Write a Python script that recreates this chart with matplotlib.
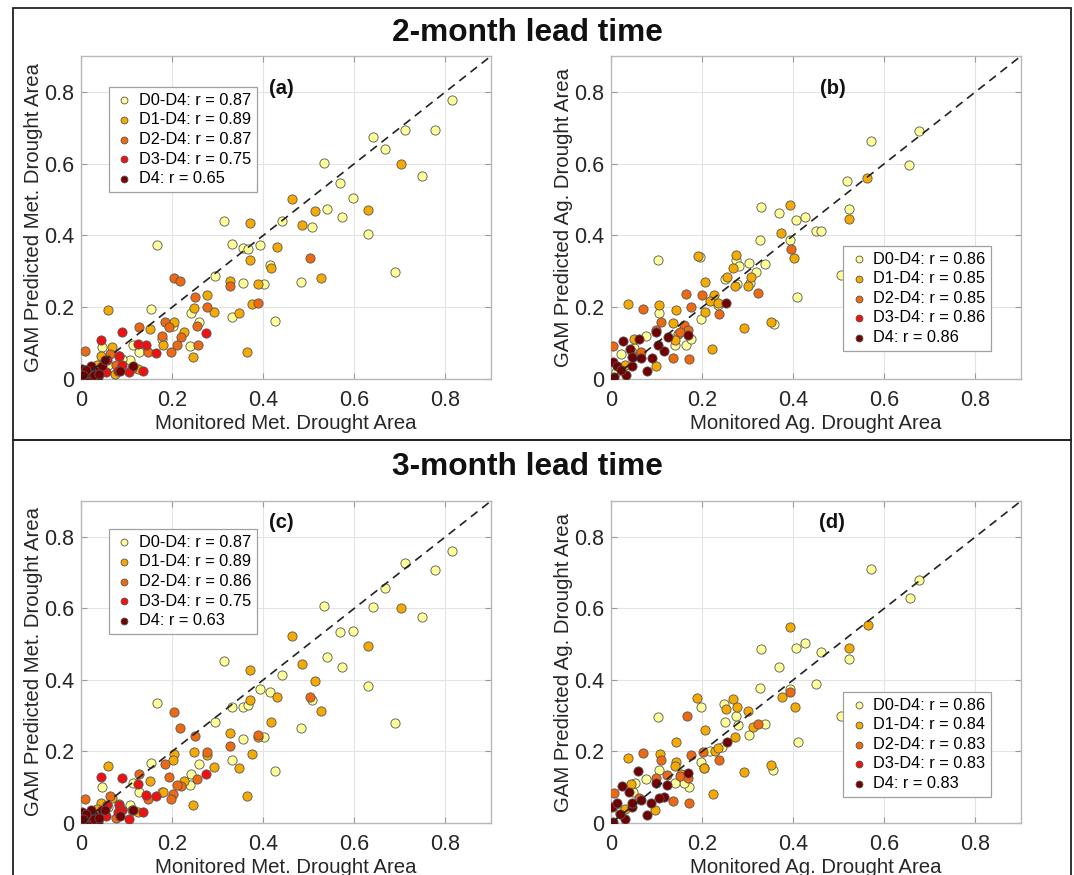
import matplotlib
matplotlib.use("Agg")
import matplotlib.pyplot as plt
from matplotlib.patches import Rectangle
from matplotlib.ticker import FuncFormatter
import numpy as np

plt.rcParams['font.family'] = ['Liberation Sans', 'DejaVu Sans']

# ---------------- data ----------------
series_names = ["D0-D4", "D1-D4", "D2-D4", "D3-D4", "D4"]
series_colors = ["#FFFF99", "#F5AA00", "#EE6A12", "#EE1111", "#730000"]

r_a = ["0.87", "0.89", "0.87", "0.75", "0.65"]
r_b = ["0.86", "0.85", "0.85", "0.86", "0.86"]
r_c = ["0.87", "0.89", "0.86", "0.75", "0.63"]
r_d = ["0.86", "0.84", "0.83", "0.83", "0.83"]

# Panel (a): meteorological, 2-month lead
a_d0_x = [0.815, 0.712, 0.776, 0.640, 0.667, 0.533, 0.748, 0.569, 0.598, 0.540, 0.574, 0.442, 0.506, 0.630, 0.314, 0.166, 0.332, 0.356, 0.367, 0.394, 0.414, 0.689, 0.295, 0.356, 0.402, 0.482, 0.331, 0.426, 0.154, 0.242, 0.258, 0.202, 0.177, 0.239, 0.114, 0.128, 0.045, 0.108, 0.030, 0.060, 0.090, 0.015]
a_d0_y = [0.777, 0.693, 0.694, 0.674, 0.642, 0.603, 0.566, 0.547, 0.503, 0.473, 0.451, 0.440, 0.424, 0.405, 0.441, 0.374, 0.376, 0.365, 0.362, 0.373, 0.317, 0.297, 0.287, 0.268, 0.265, 0.271, 0.173, 0.162, 0.195, 0.183, 0.160, 0.149, 0.112, 0.091, 0.095, 0.075, 0.090, 0.052, 0.030, 0.040, 0.055, 0.012]
a_d1_x = [0.702, 0.464, 0.630, 0.513, 0.486, 0.370, 0.370, 0.418, 0.430, 0.527, 0.328, 0.388, 0.277, 0.248, 0.292, 0.347, 0.376, 0.059, 0.205, 0.226, 0.152, 0.179, 0.246, 0.364, 0.067, 0.044, 0.126, 0.083, 0.035, 0.075]
a_d1_y = [0.598, 0.502, 0.470, 0.467, 0.429, 0.436, 0.331, 0.309, 0.369, 0.281, 0.273, 0.264, 0.233, 0.197, 0.187, 0.185, 0.209, 0.192, 0.160, 0.131, 0.140, 0.095, 0.060, 0.075, 0.088, 0.063, 0.028, 0.065, 0.040, 0.015]
a_d2_x = [0.502, 0.204, 0.217, 0.327, 0.251, 0.277, 0.388, 0.184, 0.193, 0.127, 0.255, 0.177, 0.220, 0.211, 0.257, 0.198, 0.148, 0.009, 0.064, 0.077, 0.112, 0.040]
a_d2_y = [0.337, 0.282, 0.274, 0.260, 0.229, 0.201, 0.212, 0.159, 0.146, 0.146, 0.149, 0.119, 0.118, 0.094, 0.095, 0.074, 0.074, 0.077, 0.070, 0.038, 0.032, 0.025]
a_d3_x = [0.090, 0.275, 0.044, 0.126, 0.142, 0.164, 0.084, 0.057, 0.090, 0.106, 0.137, 0.055, 0.082]
a_d3_y = [0.131, 0.128, 0.108, 0.098, 0.094, 0.072, 0.063, 0.054, 0.038, 0.019, 0.021, 0.019, 0.021]
a_d4_x = [0.002, 0.019, 0.038, 0.030, 0.046, 0.115, 0.085, 0.007, 0.014, 0.052, 0.022, 0.010, 0.028, 0.040, 0.005]
a_d4_y = [0.029, 0.009, 0.006, 0.021, 0.037, 0.037, 0.021, 0.002, 0.017, 0.053, 0.037, 0.025, 0.010, 0.015, 0.010]

# Panel (b): agricultural, 2-month lead
b_d0_x = [0.676, 0.570, 0.654, 0.519, 0.522, 0.329, 0.368, 0.405, 0.425, 0.450, 0.461, 0.326, 0.393, 0.103, 0.337, 0.304, 0.274, 0.280, 0.318, 0.504, 0.409, 0.250, 0.277, 0.306, 0.196, 0.235, 0.106, 0.197, 0.358, 0.164, 0.175, 0.140, 0.077, 0.051, 0.023, 0.045, 0.010]
b_d0_y = [0.690, 0.664, 0.595, 0.552, 0.474, 0.478, 0.462, 0.442, 0.451, 0.411, 0.413, 0.387, 0.386, 0.331, 0.320, 0.324, 0.331, 0.316, 0.298, 0.291, 0.229, 0.280, 0.265, 0.268, 0.341, 0.207, 0.185, 0.167, 0.153, 0.096, 0.111, 0.096, 0.119, 0.087, 0.070, 0.075, 0.020]
b_d1_x = [0.563, 0.523, 0.392, 0.374, 0.402, 0.275, 0.190, 0.267, 0.301, 0.254, 0.308, 0.272, 0.207, 0.227, 0.217, 0.234, 0.206, 0.038, 0.106, 0.142, 0.136, 0.351, 0.291, 0.222, 0.148, 0.098, 0.050, 0.140, 0.030]
b_d1_y = [0.561, 0.446, 0.485, 0.408, 0.337, 0.346, 0.342, 0.308, 0.258, 0.285, 0.284, 0.258, 0.269, 0.235, 0.216, 0.211, 0.186, 0.208, 0.207, 0.191, 0.155, 0.158, 0.141, 0.084, 0.126, 0.036, 0.111, 0.110, 0.040]
b_d2_x = [0.395, 0.323, 0.238, 0.165, 0.200, 0.175, 0.071, 0.110, 0.160, 0.170, 0.152, 0.005, 0.099, 0.135, 0.172, 0.053, 0.066]
b_d2_y = [0.363, 0.241, 0.182, 0.238, 0.233, 0.202, 0.195, 0.160, 0.151, 0.137, 0.130, 0.093, 0.137, 0.058, 0.056, 0.063, 0.074]
b_d3_x = []
b_d3_y = []
b_d4_x = [0.253, 0.026, 0.061, 0.099, 0.126, 0.170, 0.116, 0.104, 0.079, 0.041, 0.066, 0.089, 0.004, 0.014, 0.032, 0.006, 0.047, 0.023, 0.045]
b_d4_y = [0.211, 0.106, 0.112, 0.130, 0.117, 0.122, 0.077, 0.095, 0.021, 0.083, 0.058, 0.058, 0.046, 0.035, 0.010, 0.005, 0.035, 0.024, 0.060]

# Panel (c): meteorological, 3-month lead
c_d0_x = [0.815, 0.712, 0.776, 0.667, 0.640, 0.533, 0.748, 0.569, 0.598, 0.540, 0.574, 0.442, 0.630, 0.506, 0.314, 0.166, 0.394, 0.414, 0.332, 0.356, 0.367, 0.689, 0.295, 0.402, 0.482, 0.356, 0.331, 0.426, 0.154, 0.258, 0.242, 0.239, 0.114, 0.128, 0.045, 0.177, 0.108, 0.030, 0.060, 0.015]
c_d0_y = [0.759, 0.728, 0.707, 0.657, 0.604, 0.606, 0.575, 0.534, 0.537, 0.464, 0.436, 0.413, 0.383, 0.345, 0.453, 0.335, 0.374, 0.367, 0.323, 0.325, 0.329, 0.280, 0.282, 0.239, 0.265, 0.234, 0.175, 0.145, 0.167, 0.166, 0.138, 0.106, 0.113, 0.087, 0.100, 0.088, 0.051, 0.035, 0.045, 0.012]
c_d1_x = [0.702, 0.464, 0.630, 0.513, 0.486, 0.370, 0.370, 0.418, 0.430, 0.527, 0.328, 0.388, 0.277, 0.248, 0.292, 0.347, 0.376, 0.059, 0.205, 0.226, 0.152, 0.179, 0.246, 0.364, 0.067, 0.044, 0.126, 0.083, 0.203, 0.035]
c_d1_y = [0.600, 0.524, 0.496, 0.396, 0.444, 0.428, 0.345, 0.283, 0.351, 0.312, 0.252, 0.240, 0.189, 0.199, 0.157, 0.155, 0.192, 0.160, 0.194, 0.117, 0.116, 0.087, 0.051, 0.075, 0.070, 0.055, 0.030, 0.053, 0.175, 0.040]
c_d2_x = [0.502, 0.204, 0.217, 0.327, 0.251, 0.277, 0.388, 0.184, 0.193, 0.127, 0.255, 0.202, 0.220, 0.211, 0.198, 0.148, 0.009, 0.064, 0.077, 0.112]
c_d2_y = [0.353, 0.311, 0.265, 0.215, 0.243, 0.198, 0.245, 0.166, 0.129, 0.138, 0.122, 0.081, 0.103, 0.107, 0.068, 0.067, 0.068, 0.076, 0.014, 0.036]
c_d3_x = [0.090, 0.275, 0.044, 0.126, 0.142, 0.164, 0.084, 0.057, 0.090, 0.106, 0.137, 0.055, 0.082]
c_d3_y = [0.125, 0.138, 0.128, 0.110, 0.078, 0.076, 0.050, 0.050, 0.036, 0.011, 0.030, 0.020, 0.032]
c_d4_x = [0.002, 0.019, 0.038, 0.030, 0.046, 0.115, 0.085, 0.007, 0.014, 0.052, 0.022, 0.010, 0.028, 0.040, 0.005]
c_d4_y = [0.032, 0.009, 0.004, 0.020, 0.036, 0.037, 0.019, 0.002, 0.020, 0.037, 0.035, 0.025, 0.010, 0.015, 0.010]

# Panel (d): agricultural, 3-month lead
d_d0_x = [0.570, 0.676, 0.656, 0.523, 0.426, 0.405, 0.461, 0.330, 0.369, 0.450, 0.327, 0.393, 0.505, 0.410, 0.103, 0.197, 0.247, 0.274, 0.279, 0.251, 0.304, 0.337, 0.244, 0.218, 0.198, 0.205, 0.356, 0.106, 0.172, 0.161, 0.141, 0.076, 0.048, 0.053, 0.020]
d_d0_y = [0.710, 0.679, 0.628, 0.459, 0.502, 0.489, 0.478, 0.487, 0.436, 0.389, 0.378, 0.375, 0.298, 0.227, 0.297, 0.324, 0.333, 0.299, 0.273, 0.283, 0.247, 0.277, 0.212, 0.200, 0.171, 0.155, 0.148, 0.148, 0.102, 0.111, 0.111, 0.124, 0.087, 0.113, 0.030]
d_d1_x = [0.564, 0.523, 0.394, 0.375, 0.403, 0.267, 0.189, 0.252, 0.276, 0.300, 0.311, 0.272, 0.207, 0.228, 0.234, 0.142, 0.037, 0.107, 0.143, 0.351, 0.291, 0.224, 0.205, 0.153, 0.097, 0.044, 0.140, 0.030]
d_d1_y = [0.553, 0.489, 0.549, 0.353, 0.325, 0.347, 0.349, 0.319, 0.324, 0.314, 0.269, 0.240, 0.260, 0.200, 0.210, 0.227, 0.183, 0.194, 0.170, 0.161, 0.143, 0.080, 0.155, 0.138, 0.035, 0.109, 0.160, 0.040]
d_d2_x = [0.394, 0.323, 0.237, 0.166, 0.201, 0.175, 0.071, 0.110, 0.152, 0.170, 0.006, 0.098, 0.135, 0.172, 0.124, 0.062]
d_d2_y = [0.366, 0.277, 0.175, 0.300, 0.198, 0.189, 0.196, 0.176, 0.132, 0.126, 0.083, 0.127, 0.062, 0.057, 0.134, 0.069]
d_d3_x = []
d_d3_y = []
d_d4_x = [0.254, 0.168, 0.060, 0.025, 0.099, 0.124, 0.117, 0.105, 0.079, 0.040, 0.066, 0.088, 0.002, 0.014, 0.031, 0.005, 0.045, 0.019, 0.046]
d_d4_y = [0.226, 0.141, 0.146, 0.103, 0.113, 0.107, 0.072, 0.071, 0.023, 0.087, 0.065, 0.057, 0.044, 0.057, 0.011, 0.004, 0.044, 0.025, 0.057]

panels = [
    dict(label="(a)", xlab="Monitored Met. Drought Area", ylab="GAM Predicted Met. Drought Area",
         xs=[a_d0_x, a_d1_x, a_d2_x, a_d3_x, a_d4_x], ys=[a_d0_y, a_d1_y, a_d2_y, a_d3_y, a_d4_y],
         r=r_a, rect=[81, 56, 410, 323], leg=(0.068, 0.904), lab_x=0.44, lab_y=0.81),
    dict(label="(b)", xlab="Monitored Ag. Drought Area", ylab="GAM Predicted Ag. Drought Area",
         xs=[b_d0_x, b_d1_x, b_d2_x, b_d3_x, b_d4_x], ys=[b_d0_y, b_d1_y, b_d2_y, b_d3_y, b_d4_y],
         r=r_b, rect=[611, 56, 410, 323], leg=(0.566, 0.412), lab_x=0.486, lab_y=0.81),
    dict(label="(c)", xlab="Monitored Met. Drought Area", ylab="GAM Predicted Met. Drought Area",
         xs=[c_d0_x, c_d1_x, c_d2_x, c_d3_x, c_d4_x], ys=[c_d0_y, c_d1_y, c_d2_y, c_d3_y, c_d4_y],
         r=r_c, rect=[81, 501, 410, 322], leg=(0.068, 0.913), lab_x=0.44, lab_y=0.84),
    dict(label="(d)", xlab="Monitored Ag. Drought Area", ylab="GAM Predicted Ag. Drought Area",
         xs=[d_d0_x, d_d1_x, d_d2_x, d_d3_x, d_d4_x], ys=[d_d0_y, d_d1_y, d_d2_y, d_d3_y, d_d4_y],
         r=r_d, rect=[611, 501, 410, 322], leg=(0.566, 0.407), lab_x=0.486, lab_y=0.84),
]

W, H = 1074, 875
fig = plt.figure(figsize=(W / 100, H / 100), dpi=100)

# frames
fig.add_artist(Rectangle((13 / W, 1 - 440 / H), 1058 / W, 432 / H, transform=fig.transFigure,
                         fill=False, edgecolor="#222222", linewidth=1.3))
fig.add_artist(Rectangle((13 / W, -0.05), 1058 / W, 1 - 440 / H + 0.05, transform=fig.transFigure,
                         fill=False, edgecolor="#222222", linewidth=1.3))

fig.text(527 / W, 1 - 33 / H, "2-month lead time", ha="center", va="center",
         fontsize=22.8, fontweight="bold", color="#111111")
fig.text(527 / W, 1 - 467 / H, "3-month lead time", ha="center", va="center",
         fontsize=22.8, fontweight="bold", color="#111111")

fmt = FuncFormatter(lambda v, p: "0" if abs(v) < 1e-9 else f"{v:.1f}")
ticks = [0, 0.2, 0.4, 0.6, 0.8]

for p in panels:
    l, t, w, h = p["rect"]
    ax = fig.add_axes([l / W, 1 - (t + h) / H, w / W, h / H])
    ax.set_xlim(0, 0.9)
    ax.set_ylim(0, 0.9)
    ax.set_xticks(ticks)
    ax.set_yticks(ticks)
    ax.xaxis.set_major_formatter(fmt)
    ax.yaxis.set_major_formatter(fmt)
    ax.grid(True, color="#e4e4e4", linewidth=0.8)
    ax.set_axisbelow(True)
    for s in ax.spines.values():
        s.set_color("#b8b8b8")
        s.set_linewidth(1.0)
    ax.tick_params(direction="in", length=4, width=0.8, color="#9a9a9a",
                   top=True, right=True, labelsize=15.5, labelcolor="#262626")
    ax.tick_params(axis="x", pad=8)
    ax.tick_params(axis="y", pad=5)
    ax.plot([0, 0.9], [0, 0.9], linestyle=(0, (5, 3.5)), color="#222222", linewidth=1.2, zorder=5)
    for i in range(5):
        ax.scatter(p["xs"][i], p["ys"][i], s=44, c=series_colors[i], edgecolors="#555555",
                   linewidths=0.6, zorder=3 + i * 0.1,
                   label=f"{series_names[i]}: r = {p['r'][i]}")
    ax.set_xlabel(p["xlab"], fontsize=14.7, color="#262626", labelpad=2)
    ax.set_ylabel(p["ylab"], fontsize=14.7, color="#262626", labelpad=1)
    ax.text(p["lab_x"], p["lab_y"], p["label"], fontsize=14.5, fontweight="bold",
            ha="center", va="center", color="#111111")
    leg = ax.legend(loc="upper left", bbox_to_anchor=p["leg"], borderaxespad=0,
                    fontsize=11.8, fancybox=False, framealpha=1, edgecolor="#a0a0a0",
                    markerscale=0.75, handletextpad=0.3, labelspacing=0.28,
                    borderpad=0.35, handlelength=1.2)
    leg.get_frame().set_linewidth(0.9)
    leg.set_zorder(10)

fig.savefig("out.png", dpi=100)
